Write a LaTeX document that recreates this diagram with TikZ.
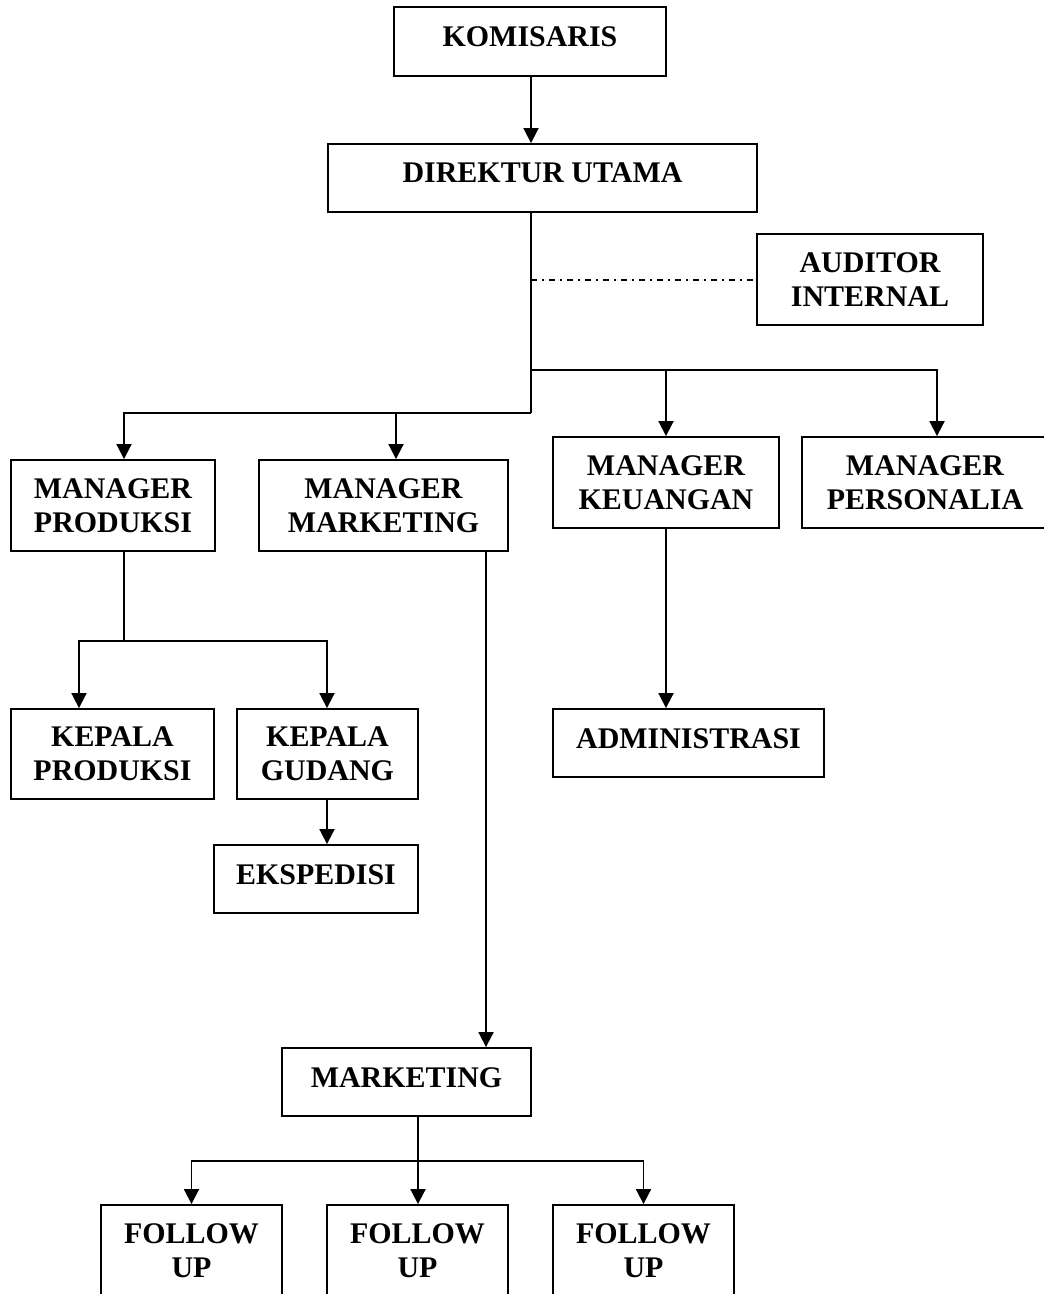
\documentclass[tikz,border=0pt]{standalone}
\usepackage{fontspec}
\setmainfont{Liberation Serif}
\usetikzlibrary{arrows.meta,calc}

\begin{document}
\begin{tikzpicture}[x=0.025cm, y=-0.025cm,
      box/.style = {draw, line width=1.3pt, align=center, inner sep=0pt,
         font=\fontsize{21.3}{24.2}\selectfont\bfseries},
      single/.style = {box, text depth=7pt},
      link/.style = {line width=1.3pt},
      arr/.style = {link, -{Triangle[width=0.375cm,length=0.375cm]}},
      dashdot/.style = {line width=1pt,
         dash pattern=on 0.15cm off 0.125cm on 0.05cm off 0.125cm}]

   \useasboundingbox (0,0) rectangle (1044,1294);
   \clip (0,0) rectangle (1044,1294);

   % top
   \node[single, minimum width=6.8cm,   minimum height=1.725cm] (kom) at (530,41.5)  {KOMISARIS};
   \node[single, minimum width=10.725cm,minimum height=1.7cm]   (dir) at (542.5,178) {DIREKTUR UTAMA};
   \node[box,    minimum width=5.65cm,  minimum height=2.275cm] (aud) at (870,279.5) {AUDITOR\\INTERNAL};

   % managers
   \node[box, minimum width=5.1cm,   minimum height=2.275cm] (mprod) at (113,505.5)   {MANAGER\\PRODUKSI};
   \node[box, minimum width=6.225cm, minimum height=2.275cm] (mmkt)  at (383.5,505.5) {MANAGER\\MARKETING};
   \node[box, minimum width=5.65cm,  minimum height=2.275cm] (mkeu)  at (666,482.5)   {MANAGER\\KEUANGAN};
   \node[box, minimum width=6.15cm,  minimum height=2.275cm] (mpers) at (925,482.5)   {MANAGER\\PERSONALIA};

   % produksi
   \node[box,    minimum width=5.075cm, minimum height=2.25cm] (kprod) at (112.5,754) {KEPALA\\PRODUKSI};
   \node[box,    minimum width=4.525cm, minimum height=2.25cm] (kgud)  at (327.5,754) {KEPALA\\GUDANG};
   \node[single, minimum width=5.1cm,   minimum height=1.7cm]  (eks)   at (316,879)   {EKSPEDISI};

   % keuangan
   \node[single, minimum width=6.775cm, minimum height=1.7cm] (adm) at (688.5,743) {ADMINISTRASI};

   % marketing
   \node[single, minimum width=6.225cm, minimum height=1.7cm] (mkt) at (406.5,1082) {MARKETING};
   \node[box, minimum width=4.525cm, minimum height=2.3cm] (fu1) at (191.5,1251) {FOLLOW\\UP};
   \node[box, minimum width=4.525cm, minimum height=2.3cm] (fu2) at (417.5,1251) {FOLLOW\\UP};
   \node[box, minimum width=4.525cm, minimum height=2.3cm] (fu3) at (643.5,1251) {FOLLOW\\UP};

   % junctions
   \coordinate (jA) at (531,280);
   \coordinate (jR) at (531,370);
   \coordinate (jL) at (531,413);
   \coordinate (dP) at (124,413);
   \coordinate (dM) at (396,413);
   \coordinate (dK) at (666,370);
   \coordinate (dS) at (937,370);
   \coordinate (jP) at (124,641);
   \coordinate (dKP) at (79,641);
   \coordinate (dKG) at (327,641);
   \coordinate (xMk) at (486,0);
   \coordinate (jF) at (418,1161);

   \draw[arr] (kom.south -| jA) -- (dir.north -| jA);
   \draw[link] (dir.south -| jL) -- (jL);
   \draw[dashdot] (jA) -- (jA -| aud.west);

   \draw[arr] (jL) -| (dP |- mprod.north);
   \draw[arr] (dM) -- (dM |- mmkt.north);
   \draw[arr] (jR) -| (dS |- mpers.north);
   \draw[arr] (dK) -- (dK |- mkeu.north);

   \draw[link] (mprod.south -| jP) -- (jP);
   \draw[arr] (jP) -| (dKP |- kprod.north);
   \draw[arr] (jP) -| (dKG |- kgud.north);
   \draw[arr] (kgud.south -| dKG) -- (eks.north -| dKG);

   \draw[arr] (mkeu.south) -- (mkeu.south |- adm.north);

   \draw[arr] (mmkt.south -| xMk) -- (mkt.north -| xMk);
   \draw[arr] (mkt.south -| jF) -- (fu2.north -| jF);
   \draw[arr] (jF) -| (fu1.north);
   \draw[arr] (jF) -| (fu3.north);

\end{tikzpicture}
\end{document}
